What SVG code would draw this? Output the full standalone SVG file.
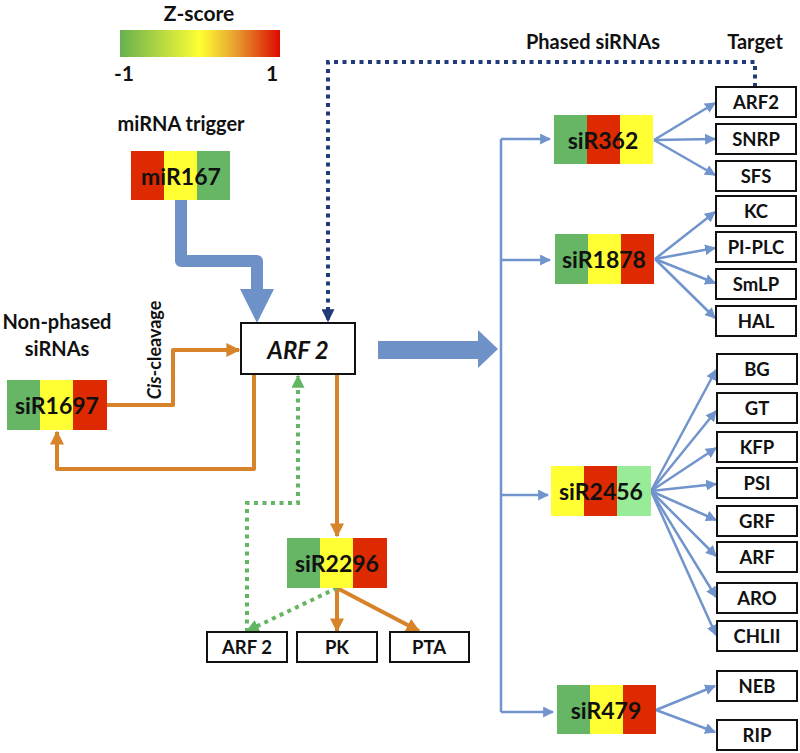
<svg xmlns="http://www.w3.org/2000/svg" width="800" height="753" viewBox="0 0 800 753">
<style>
text{font-family:Lato,"Open Sans","Liberation Sans",sans-serif;font-weight:bold;fill:#111;text-anchor:middle}
.lab{font-size:20px}
.node{font-size:23px;dominant-baseline:central}
.tgt rect{fill:#fff;stroke:#111;stroke-width:2}
.tgt text{font-size:18.5px;dominant-baseline:central}
.b{stroke:#7094cb;stroke-width:2.5;fill:none}
.o{stroke:#d6832a;stroke-width:4;fill:none}
.g{stroke:#63b563;stroke-width:4;fill:none;stroke-dasharray:4 4.5}
.n{stroke:#213a78;stroke-width:4;fill:none;stroke-dasharray:4 4.5}
.G{fill:#66b666}.Y{fill:#ffff33}.R{fill:#dd2a00}.L{fill:#98ec98}
</style>
<defs>
<linearGradient id="zg" x1="0" x2="1" y1="0" y2="0">
<stop offset="0" stop-color="#66b04f"/>
<stop offset="0.5" stop-color="#ffff33"/>
<stop offset="0.72" stop-color="#e8a030"/>
<stop offset="1" stop-color="#dd0a00"/>
</linearGradient>
<marker id="ab" viewBox="0 0 10 10" refX="9" refY="5" markerWidth="11" markerHeight="11" markerUnits="userSpaceOnUse" orient="auto"><path d="M0,0 L10,5 L0,10 z" fill="#7094cb"/></marker>
<marker id="ao" viewBox="0 0 10 10" refX="9" refY="5" markerWidth="14" markerHeight="14" markerUnits="userSpaceOnUse" orient="auto"><path d="M0,0 L10,5 L0,10 z" fill="#d6832a"/></marker>
<marker id="ag" viewBox="0 0 10 10" refX="9" refY="5" markerWidth="13" markerHeight="13" markerUnits="userSpaceOnUse" orient="auto"><path d="M0,0 L10,5 L0,10 z" fill="#63b563"/></marker>
<marker id="an" viewBox="0 0 10 10" refX="9" refY="5" markerWidth="13" markerHeight="13" markerUnits="userSpaceOnUse" orient="auto"><path d="M0,0 L10,5 L0,10 z" fill="#213a78"/></marker>
</defs>

<g id="legend">
<text x="199" y="21" style="font-size:21px">Z-score</text>
<rect x="120" y="30" width="160" height="27" fill="url(#zg)"/>
<text x="124" y="81" style="font-size:21px">-1</text>
<text x="272" y="81" style="font-size:21px">1</text>
</g>

<g id="labels">
<text x="181" y="131" class="lab">miRNA trigger</text>
<text x="57" y="329" class="lab">Non-phased</text>
<text x="57" y="356" class="lab">siRNAs</text>
<text x="593" y="49" class="lab">Phased siRNAs</text>
<text x="755" y="49" class="lab">Target</text>
<text transform="translate(161,350) rotate(-90)" style="font-size:18px"><tspan font-style="italic">Cis</tspan>-cleavage</text>
</g>

<g id="connectors">
<path d="M181,200 V261 H257 V292" stroke="#6e92c8" stroke-width="12" fill="none" stroke-linejoin="round"/>
<polygon points="240,289 274,289 257,323" fill="#6e92c8"/>
<rect x="378" y="341" width="101" height="18" fill="#6e92c8"/>
<polygon points="478,330 478,368 498,349" fill="#6e92c8"/>
<path class="n" d="M755,87 V62 H328 V321" marker-end="url(#an)"/>
<path class="o" d="M107,405 H173 V350 H239" marker-end="url(#ao)" stroke-linejoin="round"/>
<path class="o" d="M254,374 V469 H57 V432" marker-end="url(#ao)" stroke-linejoin="round"/>
<path class="o" d="M337,374 V536" marker-end="url(#ao)"/>
<path class="o" d="M337,588 V631" marker-end="url(#ao)" stroke-width="3"/>
<path class="o" d="M337,588 L419,631" marker-end="url(#ao)" stroke-width="3"/>
<path class="g" d="M337,588 L247,631" marker-end="url(#ag)"/>
<path class="g" d="M247,632 V503 H298 V376" marker-end="url(#ag)"/>
<path class="b" d="M501,139 V712"/>
<path class="b" d="M501,139 H550" marker-end="url(#ab)"/>
<path class="b" d="M501,260 H550" marker-end="url(#ab)"/>
<path class="b" d="M501,495 H548" marker-end="url(#ab)"/>
<path class="b" d="M501,712 H553" marker-end="url(#ab)"/>
<path class="b" d="M654,140 L715,103" marker-end="url(#ab)"/>
<path class="b" d="M654,140 L715,139" marker-end="url(#ab)"/>
<path class="b" d="M654,140 L715,175" marker-end="url(#ab)"/>
<path class="b" d="M655,259 L715,212" marker-end="url(#ab)"/>
<path class="b" d="M655,259 L715,248" marker-end="url(#ab)"/>
<path class="b" d="M655,259 L715,283" marker-end="url(#ab)"/>
<path class="b" d="M655,259 L715,318" marker-end="url(#ab)"/>
<path class="b" d="M651,491 L716,370" marker-end="url(#ab)"/>
<path class="b" d="M651,491 L716,411" marker-end="url(#ab)"/>
<path class="b" d="M651,491 L716,448" marker-end="url(#ab)"/>
<path class="b" d="M651,491 L716,484" marker-end="url(#ab)"/>
<path class="b" d="M651,491 L716,520" marker-end="url(#ab)"/>
<path class="b" d="M651,491 L716,556" marker-end="url(#ab)"/>
<path class="b" d="M651,491 L716,597" marker-end="url(#ab)"/>
<path class="b" d="M651,491 L716,635" marker-end="url(#ab)"/>
<path class="b" d="M656,710 L715,686" marker-end="url(#ab)"/>
<path class="b" d="M656,710 L715,732" marker-end="url(#ab)"/>
</g>

<g id="miR167">
<rect x="131" y="151" width="33" height="49" class="R"/><rect x="164" y="151" width="33" height="49" class="Y"/><rect x="197" y="151" width="33" height="49" class="G"/>
<text x="181" y="176" class="node">miR167</text>
</g>
<g id="ARF2main">
<rect x="241" y="323" width="114" height="51" fill="#fff" stroke="#111" stroke-width="2"/>
<text x="298" y="349" class="node" style="font-size:24px;font-style:italic">ARF 2</text>
</g>
<g id="siR1697">
<rect x="7" y="380" width="34" height="50" class="G"/><rect x="40" y="380" width="34" height="50" class="Y"/><rect x="73" y="380" width="34" height="50" class="R"/>
<text x="57" y="405" class="node">siR1697</text>
</g>
<g id="siR2296">
<rect x="287" y="538" width="34" height="50" class="G"/><rect x="320" y="538" width="34" height="50" class="Y"/><rect x="353" y="538" width="34" height="50" class="R"/>
<text x="337" y="563" class="node">siR2296</text>
</g>
<g id="siR362">
<rect x="554" y="115" width="34" height="49" class="G"/><rect x="587" y="115" width="34" height="49" class="R"/><rect x="620" y="115" width="33" height="49" class="Y"/>
<text x="603" y="140" class="node">siR362</text>
</g>
<g id="siR1878">
<rect x="555" y="234" width="34" height="50" class="G"/><rect x="588" y="234" width="34" height="50" class="Y"/><rect x="621" y="234" width="33" height="50" class="R"/>
<text x="604" y="259" class="node">siR1878</text>
</g>
<g id="siR2456">
<rect x="551" y="466" width="34" height="50" class="Y"/><rect x="584" y="466" width="34" height="50" class="R"/><rect x="617" y="466" width="34" height="50" class="L"/>
<text x="601" y="491" class="node">siR2456</text>
</g>
<g id="siR479">
<rect x="557" y="685" width="34" height="49" class="G"/><rect x="590" y="685" width="34" height="49" class="Y"/><rect x="623" y="685" width="33" height="49" class="R"/>
<text x="606" y="710" class="node">siR479</text>
</g>

<g id="t-ARF2b" class="tgt"><rect x="207" y="632" width="80" height="30"/><text x="247" y="647">ARF 2</text></g>
<g id="t-PK" class="tgt"><rect x="297" y="632" width="80" height="30"/><text x="337" y="647">PK</text></g>
<g id="t-PTA" class="tgt"><rect x="390" y="632" width="79" height="30"/><text x="429" y="647">PTA</text></g>

<g id="t-ARF2" class="tgt"><rect x="716" y="87" width="80" height="30"/><text x="756" y="102">ARF2</text></g>
<g id="t-SNRP" class="tgt"><rect x="716" y="124" width="80" height="30"/><text x="756" y="139">SNRP</text></g>
<g id="t-SFS" class="tgt"><rect x="716" y="161" width="80" height="30"/><text x="756" y="176">SFS</text></g>
<g id="t-KC" class="tgt"><rect x="716" y="196" width="80" height="30"/><text x="756" y="211">KC</text></g>
<g id="t-PIPLC" class="tgt"><rect x="716" y="232" width="80" height="30"/><text x="756" y="247">PI-PLC</text></g>
<g id="t-SmLP" class="tgt"><rect x="716" y="269" width="80" height="30"/><text x="756" y="284">SmLP</text></g>
<g id="t-HAL" class="tgt"><rect x="716" y="306" width="80" height="30"/><text x="756" y="321">HAL</text></g>
<g id="t-BG" class="tgt"><rect x="717" y="354" width="80" height="30"/><text x="757" y="369">BG</text></g>
<g id="t-GT" class="tgt"><rect x="717" y="393" width="80" height="30"/><text x="757" y="408">GT</text></g>
<g id="t-KFP" class="tgt"><rect x="717" y="432" width="80" height="30"/><text x="757" y="447">KFP</text></g>
<g id="t-PSI" class="tgt"><rect x="717" y="468" width="80" height="30"/><text x="757" y="483">PSI</text></g>
<g id="t-GRF" class="tgt"><rect x="717" y="506" width="80" height="30"/><text x="757" y="521">GRF</text></g>
<g id="t-ARF" class="tgt"><rect x="717" y="542" width="80" height="30"/><text x="757" y="557">ARF</text></g>
<g id="t-ARO" class="tgt"><rect x="717" y="583" width="80" height="30"/><text x="757" y="598">ARO</text></g>
<g id="t-CHLII" class="tgt"><rect x="717" y="621" width="80" height="30"/><text x="757" y="636">CHLII</text></g>
<g id="t-NEB" class="tgt"><rect x="717" y="671" width="80" height="30"/><text x="757" y="686">NEB</text></g>
<g id="t-RIP" class="tgt"><rect x="717" y="720" width="80" height="30"/><text x="757" y="735">RIP</text></g>
</svg>
